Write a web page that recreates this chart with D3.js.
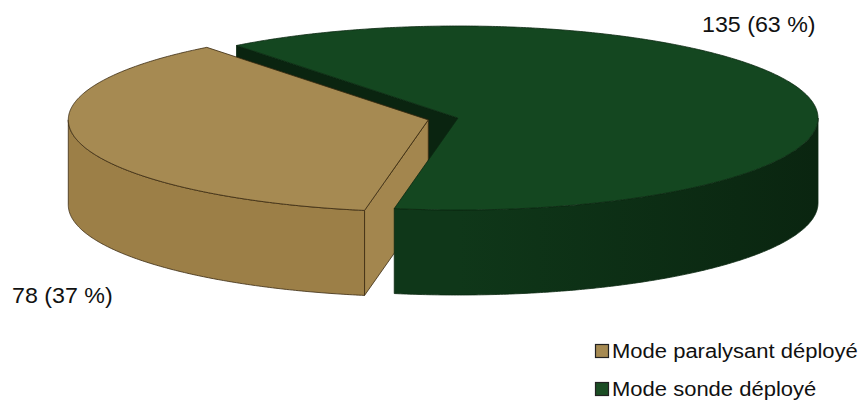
<!DOCTYPE html>
<html>
<head>
<meta charset="utf-8">
<script src="https://cdn.jsdelivr.net/npm/d3@7"></script>
<style>
  html, body { margin: 0; padding: 0; background: #fff; }
  svg { display: block; }
  text { font-family: "Liberation Sans", Arial, sans-serif; fill: #111; }
</style>
</head>
<body>
<svg id="chart" width="864" height="401"></svg>
<script>
// Data
const categories = ["Mode paralysant déployé", "Mode sonde déployé"];
const values = [78, 135];
const explode = [0.085, 0];

// Styles per slice
const topColors  = ["#a68a52", "#144720"];
const sideColors = [["#9c7f47", "#987b44"], ["#0f3719", "#0a2510"]];
const wallColors = ["#a3864e", "#0a2410"];
const edgeColors = ["#3a2a10", "#0b2812"];
const legendColors = ["#a68a52", "#1b4d24"];

// Pie geometry (elliptical projection of a tilted disc)
const W = 864, H = 401;
const cx = 458, cy = 118, rx = 360, ry = 92, depth = 85;
const startDeg = 190.2;

const svg = d3.select("#chart");
const defs = svg.append("defs");

const arcs = d3.pie().sort(null).value(d => d)
  .startAngle(startDeg * Math.PI / 180)
  .endAngle(startDeg * Math.PI / 180 + 2 * Math.PI)(values);

// screen angle: 0 = right, increasing clockwise (y down)
const slices = arcs.map((a, i) => {
  const a0 = a.startAngle - Math.PI / 2;
  const a1 = a.endAngle - Math.PI / 2;
  const mid = (a0 + a1) / 2;
  const ox = explode[i] * rx * Math.cos(mid);
  const oy = explode[i] * ry * Math.sin(mid);
  return { i, a0, a1, ox, oy };
});

const pt = (s, ang, dz) => [cx + s.ox + rx * Math.cos(ang), cy + s.oy + ry * Math.sin(ang) + dz];
const apex = (s, dz) => [cx + s.ox, cy + s.oy + dz];
const arcPts = (s, from, to, dz) => {
  const n = Math.max(2, Math.ceil(Math.abs(to - from) / (Math.PI / 360)));
  return d3.range(n + 1).map(k => pt(s, from + (to - from) * k / n, dz));
};
const line = d3.line().curve(d3.curveLinear);
const closed = p => line(p) + "Z";

const walls = [], sides = [], tops = [];

slices.forEach(s => {
  // radial walls, only those facing the viewer
  [[s.a0, s.a0 - Math.PI / 2], [s.a1, s.a1 + Math.PI / 2]].forEach(([ang, normal]) => {
    if (Math.sin(normal) > 0) {
      const poly = [apex(s, 0), pt(s, ang, 0), pt(s, ang, depth), apex(s, depth)];
      walls.push({ s, poly, key: (poly[0][1] + poly[1][1]) / 2 });
    }
  });
  // outer curved side: front half of the ellipse only
  for (let k = -1; k <= 2; k++) {
    const lo = Math.max(s.a0, 2 * Math.PI * k);
    const hi = Math.min(s.a1, 2 * Math.PI * k + Math.PI);
    if (hi > lo) {
      const poly = arcPts(s, lo, hi, 0).concat(arcPts(s, hi, lo, depth));
      sides.push({ s, poly, lo, hi });
    }
  }
  tops.push({ s, poly: [apex(s, 0)].concat(arcPts(s, s.a0, s.a1, 0)) });
});

// horizontal shading for the curved sides
slices.forEach(s => {
  const g = defs.append("linearGradient").attr("id", "side" + s.i)
    .attr("gradientUnits", "userSpaceOnUse")
    .attr("x1", cx + s.ox - rx).attr("x2", cx + s.ox + rx).attr("y1", 0).attr("y2", 0);
  g.append("stop").attr("offset", "0").attr("stop-color", sideColors[s.i][0]);
  g.append("stop").attr("offset", "0.5").attr("stop-color", sideColors[s.i][0]);
  g.append("stop").attr("offset", "1").attr("stop-color", sideColors[s.i][1]);
});

const pie = svg.append("g");
walls.sort((a, b) => a.key - b.key).forEach(w => {
  pie.append("path").attr("d", closed(w.poly))
    .attr("fill", wallColors[w.s.i])
    .attr("stroke", edgeColors[w.s.i]).attr("stroke-width", 0.8).attr("stroke-linejoin", "round");
});
sides.forEach(sd => {
  pie.append("path").attr("d", closed(sd.poly))
    .attr("fill", `url(#side${sd.s.i})`)
    .attr("stroke", edgeColors[sd.s.i]).attr("stroke-width", 0.8).attr("stroke-linejoin", "round");
});
tops.forEach(t => {
  pie.append("path").attr("d", closed(t.poly))
    .attr("fill", topColors[t.s.i])
    .attr("stroke", edgeColors[t.s.i]).attr("stroke-width", 0.8).attr("stroke-linejoin", "round");
});

// value labels
const total = d3.sum(values);
const fmt = v => `${v} (${Math.round(v / total * 100)} %)`;
const labelPos = [[12, 303], [702, 32]];
const stretch = 1.08;
values.forEach((v, i) => {
  const t = svg.append("text")
    .attr("x", labelPos[i][0]).attr("y", labelPos[i][1])
    .attr("font-size", 21.5)
    .text(fmt(v));
  t.attr("textLength", t.node().getComputedTextLength() * stretch)
   .attr("lengthAdjust", "spacingAndGlyphs");
});

// legend
const legend = svg.append("g");
categories.forEach((c, i) => {
  const y = [344, 382][i];
  legend.append("rect").attr("x", 595.5).attr("y", y + 0.5).attr("width", 13).attr("height", 13)
    .attr("fill", legendColors[i]).attr("stroke", "#222").attr("stroke-width", 1.2);
  const t = legend.append("text").attr("x", 612).attr("y", y + 14)
    .attr("font-size", 20).text(c);
  t.attr("textLength", t.node().getComputedTextLength() * 1.1)
   .attr("lengthAdjust", "spacingAndGlyphs");
});
</script>
</body>
</html>
